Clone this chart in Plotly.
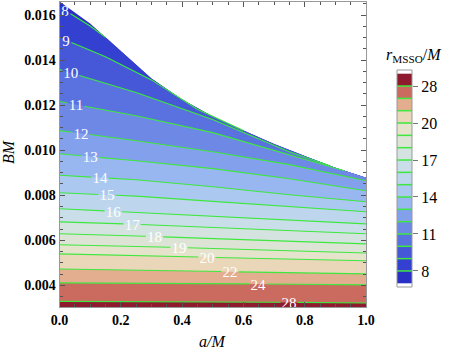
import numpy as np
import plotly.graph_objects as go

# r_MSSO/M contour levels and band colours (band 0 is below 8, band 16 above 28)
levels = [8, 9, 10, 11, 12, 13, 14, 15, 16, 17, 18, 19, 20, 22, 24, 28]
band_colors = ['#2a2fc6', '#3441d0', '#4657d8', '#5a71e0', '#6e88e6', '#83a0ec',
               '#98b6f0', '#abc8f0', '#bdd6ee', '#c9dee9', '#d4e3e0', '#dde4d6',
               '#e5e3cb', '#ead6b8', '#e3ad8f', '#cb6b60', '#8e1a2e']
cbar_ticks = [8, 11, 14, 17, 20, 28]

# upper edge of the region where the MSSO exists
a_edge = [0.0, 0.1, 0.2, 0.3, 0.4, 0.5, 0.6, 0.7, 0.8, 0.9, 1.0]
B_edge = [0.01660, 0.01562, 0.01440, 0.01318, 0.01225, 0.01150,
          0.01087, 0.01028, 0.00974, 0.00922, 0.00878]

# contour lines, B*M read along a/M
a_r8 = [0.0, 0.05, 0.10, 0.15]
B_r8 = [0.01638, 0.01593, 0.01551, 0.01501]
a_r9 = [0.0, 0.15, 0.30, 0.45, 0.60]
B_r9 = [0.01500, 0.01415, 0.01312, 0.01182, 0.01087]
a_r10 = [0.0, 0.25, 0.50, 0.75, 0.88]
B_r10 = [0.01358, 0.01256, 0.01136, 0.00993, 0.00932]
a_r11 = [0.0, 0.25, 0.50, 0.75, 0.93]
B_r11 = [0.01216, 0.01153, 0.01078, 0.00980, 0.00909]
a_cols = [0.0, 0.25, 0.50, 0.75, 1.0]
B_r12 = [0.01087, 0.01042, 0.00993, 0.00936, 0.00864]
B_r13 = [0.00984, 0.00953, 0.00918, 0.00873, 0.00820]
B_r14 = [0.00889, 0.00869, 0.00838, 0.00802, 0.00771]
B_r15 = [0.00811, 0.00796, 0.00773, 0.00749, 0.00727]
B_r16 = [0.00740, 0.00724, 0.00707, 0.00689, 0.00673]
B_r17 = [0.00682, 0.00671, 0.00658, 0.00644, 0.00629]
B_r18 = [0.00629, 0.00620, 0.00607, 0.00596, 0.00584]
B_r19 = [0.00580, 0.00573, 0.00564, 0.00553, 0.00544]
B_r20 = [0.00540, 0.00533, 0.00524, 0.00516, 0.00509]
B_r22 = [0.00473, 0.00469, 0.00462, 0.00456, 0.00451]
B_r24 = [0.00411, 0.00410, 0.00408, 0.00405, 0.00402]
B_r28 = [0.00329, 0.00328, 0.00327, 0.00325, 0.00322]

# where along a/M each contour carries its label
label_a = [0.018, 0.021, 0.037, 0.054, 0.070, 0.100, 0.132, 0.155,
           0.175, 0.237, 0.310, 0.390, 0.481, 0.556, 0.648, 0.749]

lines = [(a_r8, B_r8), (a_r9, B_r9), (a_r10, B_r10), (a_r11, B_r11),
         (a_cols, B_r12), (a_cols, B_r13), (a_cols, B_r14), (a_cols, B_r15),
         (a_cols, B_r16), (a_cols, B_r17), (a_cols, B_r18), (a_cols, B_r19),
         (a_cols, B_r20), (a_cols, B_r22), (a_cols, B_r24), (a_cols, B_r28)]

B_lo, B_hi = 0.00304, 0.0166
floor = 0.002
serif = 'Liberation Serif, Times New Roman, serif'
green = '#3ee83e'

fig = go.Figure()

# whole allowed region first, then paint each band below its contour
fig.add_trace(go.Scatter(x=a_edge + [1.0, 0.0], y=B_edge + [floor, floor],
                         fill='toself', fillcolor=band_colors[0], mode='lines',
                         line=dict(width=0), hoverinfo='skip', showlegend=False))
for k, (a_l, B_l) in enumerate(lines):
    xs, ys = list(a_l), list(B_l)
    for a, b in zip(a_edge, B_edge):
        if a > a_l[-1] + 1e-9:
            xs.append(a)
            ys.append(b)
    xs += [1.0, 0.0]
    ys += [floor, floor]
    fig.add_trace(go.Scatter(x=xs, y=ys, fill='toself', fillcolor=band_colors[k + 1],
                             mode='lines', line=dict(width=0), hoverinfo='skip',
                             showlegend=False))

# green contour lines, broken where the label sits
for lev, la, (a_l, B_l) in zip(levels, label_a, lines):
    g = 0.018 if lev < 10 else 0.028
    lo, hi = max(la - g, 0.0), la + g
    xs, ys = [], []
    for a, b in zip(a_l, B_l):
        if a < lo:
            xs.append(a)
            ys.append(b)
    if lo > 0:
        xs.append(lo)
        ys.append(float(np.interp(lo, a_l, B_l)))
    xs.append(None)
    ys.append(None)
    xs.append(hi)
    ys.append(float(np.interp(hi, a_l, B_l)))
    for a, b in zip(a_l, B_l):
        if a > hi:
            xs.append(a)
            ys.append(b)
    fig.add_trace(go.Scatter(x=xs, y=ys, mode='lines', line=dict(color=green, width=1.1),
                             connectgaps=False, hoverinfo='skip', showlegend=False))

# labels sit on their line (nudged a touch so the digits look centred on it)
lab_B = [float(np.interp(la, a_l, B_l)) - 0.00008 for la, (a_l, B_l) in zip(label_a, lines)]
fig.add_trace(go.Scatter(x=label_a, y=lab_B, mode='text', text=[str(v) for v in levels],
                         textfont=dict(family=serif, size=15, color='white'),
                         hoverinfo='skip', showlegend=False))

# legend bar on the right
nb = len(band_colors)
fig.add_trace(go.Bar(x=[0] * nb, y=[1] * nb, base=list(range(nb)), width=1,
                     marker=dict(color=band_colors, line=dict(width=0)),
                     xaxis='x2', yaxis='y2', hoverinfo='skip', showlegend=False))
shapes = []
for i in range(1, nb):
    shapes.append(dict(type='line', xref='x2', yref='y2', x0=-0.5, x1=0.5, y0=i, y1=i,
                       line=dict(color=green, width=1.5)))
shapes.append(dict(type='rect', xref='x2 domain', yref='y2 domain', x0=0, x1=1, y0=0, y1=1,
                   line=dict(color='#999999', width=1)))

axis_common = dict(showline=True, linecolor='#999999', linewidth=1, mirror='ticks',
                   ticks='inside', ticklen=5, tickcolor='#555555', showgrid=False,
                   zeroline=False, automargin=False,
                   tickfont=dict(family=serif, size=14, color='black', weight='bold'))

fig.update_layout(
    width=449, height=352,
    margin=dict(l=0, r=0, t=0, b=0, autoexpand=False),
    paper_bgcolor='white', plot_bgcolor='white',
    xaxis=dict(domain=[59.5 / 449, 366 / 449], range=[0, 1], dtick=0.2, tickformat='.1f',
               minor=dict(dtick=0.05, ticks='inside', ticklen=3, tickcolor='#555555'),
               **axis_common),
    yaxis=dict(domain=[45 / 352, 350.5 / 352], range=[B_lo, B_hi], dtick=0.002,
               tickformat='.3f',
               minor=dict(dtick=0.0005, ticks='inside', ticklen=3, tickcolor='#555555'),
               **axis_common),
    xaxis2=dict(domain=[397 / 449, 412 / 449], range=[-0.5, 0.5], visible=False,
                anchor='y2', automargin=False),
    yaxis2=dict(domain=[65 / 352, 282 / 352], range=[-0.3, nb + 0.3], anchor='x2',
                side='right', showgrid=False, zeroline=False, showline=False,
                automargin=False,
                tickvals=[levels.index(t) + 1 for t in cbar_ticks],
                ticktext=[str(t) for t in cbar_ticks], ticks='outside', ticklen=5,
                tickcolor='#777777',
                tickfont=dict(family=serif, size=16, color='black')),
    shapes=shapes,
    annotations=[
        dict(text='<i>a/M</i>', xref='paper', yref='paper', x=212 / 449, y=11 / 352,
             xanchor='center', yanchor='middle', showarrow=False,
             font=dict(family=serif, size=16, color='black')),
        dict(text='<i>BM</i>', xref='paper', yref='paper', x=9 / 449, y=200 / 352,
             xanchor='center', yanchor='middle', textangle=-90, showarrow=False,
             font=dict(family=serif, size=16, color='black')),
        dict(text='<i>r</i><sub>MSSO</sub>/<i>M</i>', xref='paper', yref='paper',
             x=414 / 449, y=297 / 352, xanchor='center', yanchor='middle', showarrow=False,
             font=dict(family=serif, size=16, color='black')),
    ],
)

# the page body has a default 8px margin; drop it so the figure sits at the corner
fig.write_html("out.html", config={'displayModeBar': False},
               post_script="document.body.style.margin='0';")
